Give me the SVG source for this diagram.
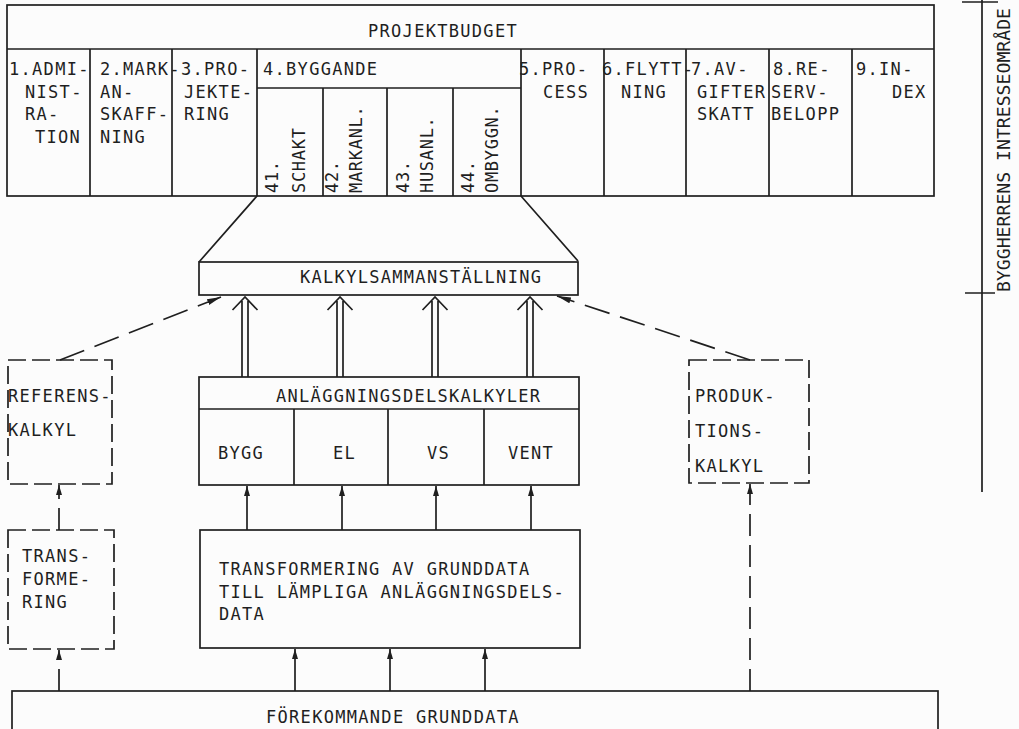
<svg xmlns="http://www.w3.org/2000/svg" width="1019" height="729" viewBox="0 0 1019 729">
  <style>
    .ln { fill: none; stroke: #1f1f1f; stroke-width: 1.7; }
    .box { fill: none; stroke: #1f1f1f; stroke-width: 1.7; }
    .dbox { fill: none; stroke: #1f1f1f; stroke-width: 1.7; stroke-dasharray: 18 6; }
    .dlink { fill: none; stroke: #1f1f1f; stroke-width: 1.7; stroke-dasharray: 26 11; }
    .vlink { fill: none; stroke: #1f1f1f; stroke-width: 1.7; stroke-dasharray: 22 9; }
    .t { font-family: "DejaVu Sans Mono", "Liberation Mono", monospace; font-size: 17px; fill: #1f1f1f; letter-spacing: 1.3px; }
    .tr { font-family: "DejaVu Sans Mono", "Liberation Mono", monospace; font-size: 17px; fill: #1f1f1f; letter-spacing: 0.7px; }
    .side { font-family: "DejaVu Sans Mono", "Liberation Mono", monospace; font-size: 18px; fill: #1f1f1f; }
  </style>
  <defs>
    <marker id="tip" markerUnits="userSpaceOnUse" markerWidth="12" markerHeight="8" refX="10" refY="3" orient="auto">
      <path d="M0,0 L10,3 L0,6 z" fill="#1f1f1f" stroke="none"/>
    </marker>
    <marker id="tipLong" markerUnits="userSpaceOnUse" markerWidth="16" markerHeight="8" refX="14" refY="3" orient="auto">
      <path d="M0,0 L14,3 L0,6 z" fill="#1f1f1f" stroke="none"/>
    </marker>
    <g id="dblArrow">
      <!-- hollow double-shaft arrow, apex at origin, 80 px long -->
      <path d="M-3,80 V4 M3,80 V4 M-12.5,13 L0,0 L12.5,13" fill="none" stroke="#1f1f1f" stroke-width="1.7"/>
    </g>
  </defs>

  <rect x="0" y="0" width="1019" height="729" fill="#fcfcfc"/>

  <!-- project budget table -->
  <g id="projektbudget">
    <rect class="box" x="7" y="5" width="927" height="191"/>
    <line class="ln" x1="7" y1="49" x2="934" y2="49"/>
    <text class="t" x="368" y="37">PROJEKTBUDGET</text>
    <path class="ln" d="M90,49 V196 M172,49 V196 M257,49 V196 M521,49 V196 M604,49 V196 M686,49 V196 M769,49 V196 M852,49 V196"/>
    <line class="ln" x1="257" y1="88" x2="521" y2="88"/>
    <path class="ln" d="M323,88 V196 M387,88 V196 M453,88 V196"/>

    <g id="col-1">
      <text class="t" x="9" y="75">1.ADMI-</text>
      <text class="t" x="25" y="97.5">NIST-</text>
      <text class="t" x="25" y="120">RA-</text>
      <text class="t" x="35" y="142.5">TION</text>
    </g>
    <g id="col-2">
      <text class="t" x="100" y="75">2.MARK-</text>
      <text class="t" x="100" y="97.5">AN-</text>
      <text class="t" x="100" y="120">SKAFF-</text>
      <text class="t" x="100" y="142.5">NING</text>
    </g>
    <g id="col-3">
      <text class="t" x="181" y="75">3.PRO-</text>
      <text class="t" x="184" y="97.5">JEKTE-</text>
      <text class="t" x="184" y="120">RING</text>
    </g>
    <g id="col-4">
      <text class="t" x="263" y="75">4.BYGGANDE</text>
      <text class="tr" transform="translate(278,193) rotate(-90)">41.</text>
      <text class="tr" transform="translate(305,193) rotate(-90)">SCHAKT</text>
      <text class="tr" transform="translate(338,193) rotate(-90)">42.</text>
      <text class="tr" transform="translate(362,193) rotate(-90)">MARKANL.</text>
      <text class="tr" transform="translate(409,193) rotate(-90)">43.</text>
      <text class="tr" transform="translate(433,193) rotate(-90)">HUSANL.</text>
      <text class="tr" transform="translate(474,193) rotate(-90)">44.</text>
      <text class="tr" transform="translate(498,193) rotate(-90)">OMBYGGN.</text>
    </g>
    <g id="col-5">
      <text class="t" x="519" y="75">5.PRO-</text>
      <text class="t" x="543" y="97.5">CESS</text>
    </g>
    <g id="col-6">
      <text class="t" x="602" y="75">6.FLYTT-</text>
      <text class="t" x="621" y="97.5">NING</text>
    </g>
    <g id="col-7">
      <text class="t" x="691" y="75">7.AV-</text>
      <text class="t" x="697" y="97.5">GIFTER</text>
      <text class="t" x="697" y="120">SKATT</text>
    </g>
    <g id="col-8">
      <text class="t" x="773" y="75">8.RE-</text>
      <text class="t" x="771" y="97.5">SERV-</text>
      <text class="t" x="771" y="120">BELOPP</text>
    </g>
    <g id="col-9">
      <text class="t" x="856" y="75">9.IN-</text>
      <text class="t" x="892" y="97.5">DEX</text>
    </g>
  </g>

  <!-- client's area of interest bracket -->
  <g id="byggherrens-intresseomrade">
    <path class="ln" d="M982,0 V492 M962,2 H998 M965,293 H995"/>
    <text class="side" transform="translate(1010,292) rotate(-90)" textLength="284" lengthAdjust="spacingAndGlyphs">BYGGHERRENS INTRESSEOMRÅDE</text>
  </g>

  <g id="kalkylsammanstallning">
    <rect class="box" x="199" y="262" width="379" height="33"/>
    <text class="t" x="300" y="283">KALKYLSAMMANSTÄLLNING</text>
  </g>

  <g id="anlaggningsdelskalkyler">
    <rect class="box" x="199" y="377" width="380" height="108"/>
    <line class="ln" x1="199" y1="409" x2="579" y2="409"/>
    <path class="ln" d="M294,409 V485 M388,409 V485 M484,409 V485"/>
    <text class="t" x="276" y="402">ANLÄGGNINGSDELSKALKYLER</text>
    <text class="t" x="218" y="459">BYGG</text>
    <text class="t" x="333" y="459">EL</text>
    <text class="t" x="427" y="459">VS</text>
    <text class="t" x="508" y="459">VENT</text>
  </g>

  <g id="referenskalkyl">
    <rect class="dbox" x="8" y="360" width="104" height="124"/>
    <text class="t" x="8" y="402">REFERENS-</text>
    <text class="t" x="8" y="436">KALKYL</text>
  </g>

  <g id="produktionskalkyl">
    <rect class="dbox" x="689" y="360" width="120" height="123"/>
    <text class="t" x="695" y="402">PRODUK-</text>
    <text class="t" x="695" y="437">TIONS-</text>
    <text class="t" x="695" y="472">KALKYL</text>
  </g>

  <g id="transformering">
    <rect class="dbox" x="8" y="530" width="106" height="119"/>
    <text class="t" x="22" y="562">TRANS-</text>
    <text class="t" x="22" y="585">FORME-</text>
    <text class="t" x="22" y="608">RING</text>
  </g>

  <g id="transformering-grunddata">
    <rect class="box" x="200" y="530" width="380" height="118"/>
    <text class="t" x="219" y="575">TRANSFORMERING AV GRUNDDATA</text>
    <text class="t" x="219" y="598">TILL LÄMPLIGA ANLÄGGNINGSDELS-</text>
    <text class="t" x="219" y="620">DATA</text>
  </g>

  <g id="forekommande-grunddata">
    <rect class="box" x="12" y="691" width="926" height="50"/>
    <text class="t" x="266" y="723">FÖREKOMMANDE GRUNDDATA</text>
  </g>

  <!-- connectors -->
  <g id="connectors">
    <!-- funnel from the building column down to the summary -->
    <path class="ln" d="M257,196 L199,262 M521,196 L578,261"/>

    <!-- summary inputs from the part estimates -->
    <use href="#dblArrow" x="245" y="297"/>
    <use href="#dblArrow" x="340" y="297"/>
    <use href="#dblArrow" x="435" y="297"/>
    <use href="#dblArrow" x="530" y="297"/>

    <!-- reference and production estimates -->
    <path class="dlink" d="M60,360 L221,297" marker-end="url(#tipLong)"/>
    <path class="dlink" d="M750,360 L557,296" marker-end="url(#tipLong)"/>

    <!-- transformed data into part estimates -->
    <path class="ln" d="M247,530 V486" marker-end="url(#tip)"/>
    <path class="ln" d="M342,530 V486" marker-end="url(#tip)"/>
    <path class="ln" d="M436,530 V486" marker-end="url(#tip)"/>
    <path class="ln" d="M531,530 V486" marker-end="url(#tip)"/>

    <!-- base data into transformation -->
    <path class="ln" d="M295,691 V649" marker-end="url(#tip)"/>
    <path class="ln" d="M390,691 V649" marker-end="url(#tip)"/>
    <path class="ln" d="M485,691 V649" marker-end="url(#tip)"/>

    <!-- left dashed chain -->
    <path class="vlink" d="M59,530 V485" marker-end="url(#tip)"/>
    <path class="vlink" d="M59,691 V650" marker-end="url(#tip)"/>

    <!-- base data to production estimate -->
    <path class="vlink" d="M750,691 V484" marker-end="url(#tip)"/>
  </g>
</svg>
